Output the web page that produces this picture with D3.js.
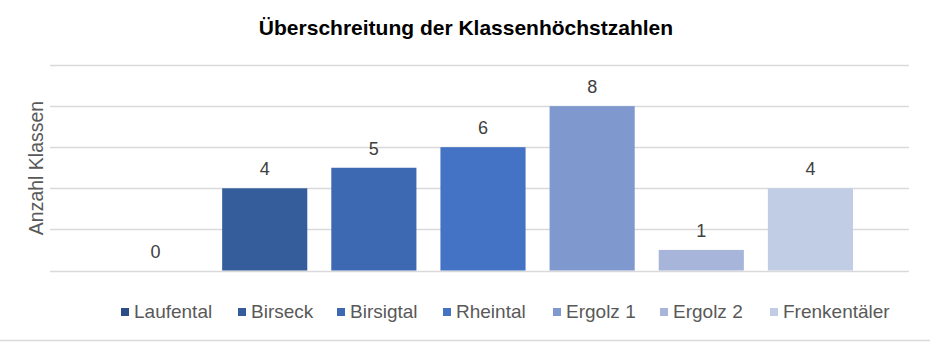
<!DOCTYPE html>
<html><head><meta charset="utf-8">
<script src="https://cdn.jsdelivr.net/npm/d3@7"></script>
<style>html,body{margin:0;padding:0;background:#fff;}svg{display:block;font-family:Arial,"Liberation Sans",sans-serif;}</style>
</head><body>
<svg id="c" width="930" height="342"></svg>
<script>
const categories = ["Laufental","Birseck","Birsigtal","Rheintal","Ergolz 1","Ergolz 2","Frenkentäler"];
const values = [0,4,5,6,8,1,4];
const colors = ["#2c4d86","#355d9c","#3d69b3","#4472c4","#7f99cf","#a7b5da","#c1cce5"];
const yTicks = [0,2,4,6,8,10];
const title = "Überschreitung der Klassenhöchstzahlen";
const yLabel = "Anzahl Klassen";

const svg = d3.select("#c");
const y = d3.scaleLinear().domain([0,10]).range([270.5,65]);
const x = d3.scaleBand().domain(categories).range([101,865]).paddingInner(0.22).paddingOuter(0.11);

// bottom border
svg.append("line").attr("x1",0).attr("x2",930).attr("y1",340.5).attr("y2",340.5).attr("stroke","#d9d9d9").attr("stroke-width",1.5);

// gridlines
svg.append("g").selectAll("line").data(yTicks).join("line")
  .attr("x1",50).attr("x2",909).attr("y1",d=>Math.round(y(d))+0.5).attr("y2",d=>Math.round(y(d))+0.5)
  .attr("stroke","#d9d9d9").attr("stroke-width",1.5);

// bars
svg.append("g").selectAll("rect").data(categories).join("rect")
  .attr("x",d=>x(d)).attr("width",x.bandwidth())
  .attr("y",(d,i)=>y(values[i])).attr("height",(d,i)=>y(0)-y(values[i]))
  .attr("fill",(d,i)=>colors[i]);

// labels
svg.append("g").selectAll("text").data(categories).join("text")
  .attr("x",d=>x(d)+x.bandwidth()/2).attr("y",(d,i)=>y(values[i])-13)
  .attr("text-anchor","middle").attr("font-size",18).attr("fill","#404040")
  .text((d,i)=>values[i]);

// title
svg.append("text").attr("x",466).attr("y",35).attr("text-anchor","middle")
  .attr("font-size",21).attr("font-weight","bold").attr("fill","#000").text(title);

// y label
svg.append("text").attr("transform","translate(43,168) rotate(-90)").attr("text-anchor","middle")
  .attr("font-size",19.5).attr("fill","#595959").text(yLabel);

// legend
const legX = [121,238,337,443,553,660,770];
const lg = svg.append("g").selectAll("g").data(categories).join("g")
  .attr("transform",(d,i)=>`translate(${legX[i]},311)`);
lg.append("rect").attr("x",0).attr("y",-3).attr("width",8).attr("height",8).attr("fill",(d,i)=>colors[i]);
lg.append("text").attr("x",13).attr("y",7).attr("font-size",19).attr("fill","#595959").text(d=>d);
</script>
</body></html>
